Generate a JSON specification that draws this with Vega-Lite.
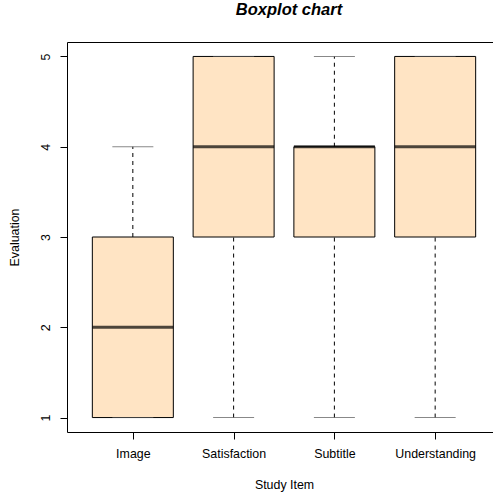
{
  "$schema": "https://vega.github.io/schema/vega-lite/v6.json",
  "autosize": {"type": "none"},
  "width": 434,
  "height": 390,
  "padding": {"left": 67, "top": 42, "right": -8, "bottom": 64},
  "background": "white",
  "config": {
    "view": {"stroke": "black", "strokeWidth": 1},
    "font": "Liberation Sans",
    "axis": {"labelFont": "Liberation Sans", "titleFont": "Liberation Sans", "labelFontSize": 12.4, "titleFontSize": 12.4, "labelColor": "black", "titleColor": "black", "titleFontWeight": "normal", "tickColor": "black", "domain": false, "grid": false, "tickSize": 7}
  },
  "title": {"text": "Boxplot chart", "font": "Liberation Sans", "fontSize": 16.5, "fontWeight": "bold", "fontStyle": "italic", "color": "black", "anchor": "middle", "offset": 24, "dx": 5},
  "data": {"values": [
    {"item": "Image", "min": 1, "q1": 1, "median": 2, "q3": 3, "max": 4},
    {"item": "Satisfaction", "min": 1, "q1": 3, "median": 4, "q3": 5, "max": 5},
    {"item": "Subtitle", "min": 1, "q1": 3, "median": 4, "q3": 4, "max": 5},
    {"item": "Understanding", "min": 1, "q1": 3, "median": 4, "q3": 5, "max": 5}
  ]},
  "encoding": {
    "x": {"field": "item", "type": "nominal", "sort": null,
      "scale": {"type": "point", "padding": 0.6534, "align": 0.5},
      "axis": {"title": "Study Item", "labelAngle": 0, "labelPadding": 8, "titlePadding": 19}}
  },
  "layer": [
    {"mark": {"type": "rule", "strokeDash": [4, 4], "color": "black", "strokeWidth": 1},
     "encoding": {"y": {"field": "min", "type": "quantitative", "scale": {"domain": [0.84, 5.16], "nice": false, "zero": false},
        "axis": {"title": "Evaluation", "values": [1, 2, 3, 4, 5], "format": "d", "labelAngle": 270, "labelAlign": "center", "labelBaseline": "bottom", "labelPadding": 8, "titlePadding": 18}},
       "y2": {"field": "q1"}}},
    {"mark": {"type": "rule", "strokeDash": [4, 4], "color": "black", "strokeWidth": 1},
     "encoding": {"y": {"field": "q3", "type": "quantitative"}, "y2": {"field": "max"}}},
    {"mark": {"type": "bar", "width": 81, "fill": "#FFE4C4", "stroke": "black", "strokeWidth": 1},
     "encoding": {"y": {"field": "q1", "type": "quantitative"}, "y2": {"field": "q3"}}},
    {"mark": {"type": "tick", "orient": "horizontal", "size": 41, "thickness": 1, "color": "#555"},
     "encoding": {"y": {"field": "min", "type": "quantitative"}}},
    {"mark": {"type": "tick", "orient": "horizontal", "size": 41, "thickness": 1, "color": "#555"},
     "encoding": {"y": {"field": "max", "type": "quantitative"}}},
    {"mark": {"type": "tick", "orient": "horizontal", "size": 81, "thickness": 3, "color": "black"},
     "encoding": {"y": {"field": "median", "type": "quantitative"}}}
  ]
}
